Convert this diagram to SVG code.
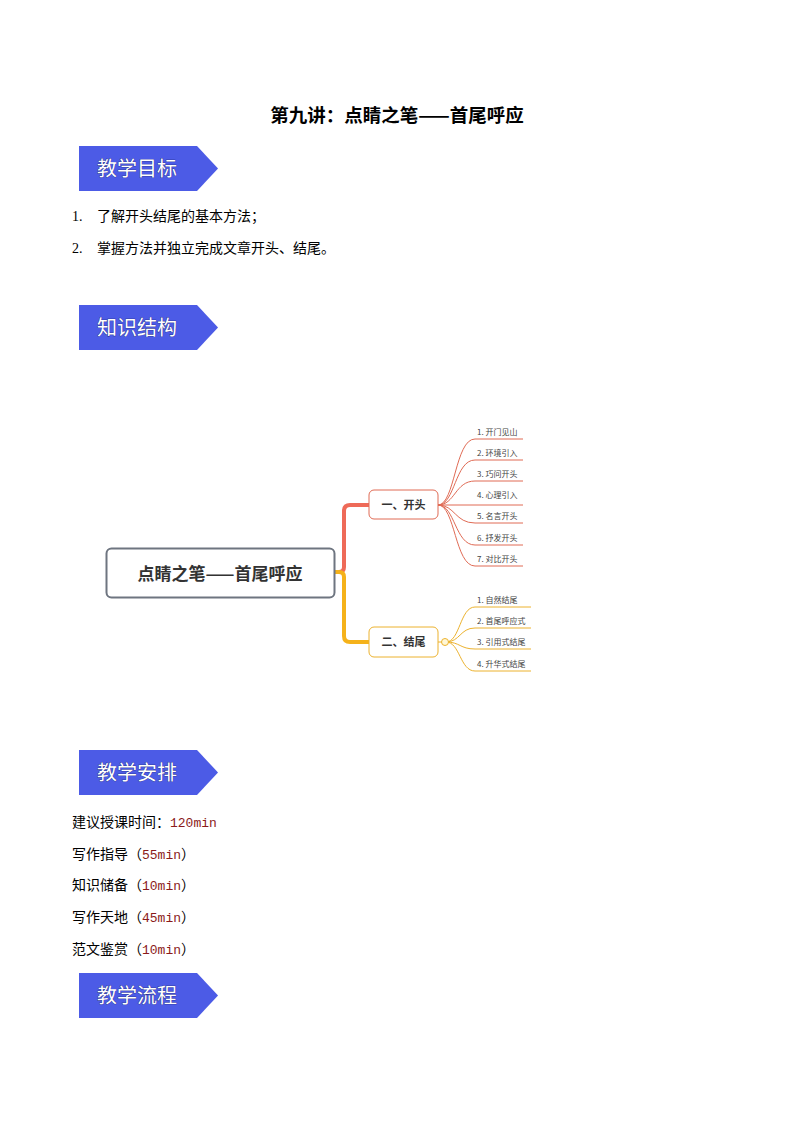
<svg xmlns="http://www.w3.org/2000/svg" width="794" height="1123" viewBox="0 0 794 1123">
<defs>
<style>
.t{font-family:"Liberation Serif","Noto Sans CJK SC",serif;font-size:14px;fill:#000}
.ban{fill:#4c5be6}
.bt{font-family:"Noto Sans CJK SC",sans-serif;font-size:20px;fill:#fff;stroke:#1a2270;stroke-width:0.6;paint-order:stroke}
.m{font-family:"Liberation Mono","Noto Sans CJK SC",monospace;font-size:13px;fill:#8b1a1a}
.lf{font-family:"Noto Sans CJK SC",sans-serif;font-size:8px;fill:#444}
.r{stroke:#e06b55;fill:none;stroke-width:1}
.y{stroke:#ecb22e;fill:none;stroke-width:1}
</style>
<path id="bn" d="M0 0H118L139 22.5L118 45H0Z"/>
</defs>
<rect width="794" height="1123" fill="#fff"/>
<text x="397" y="122" text-anchor="middle" style="font-family:'Noto Sans CJK SC',serif;font-size:18.5px;font-weight:bold">第九讲：点睛之笔——首尾呼应</text>
<g id="b1"><use href="#bn" x="79" y="146" class="ban"/><text x="97" y="176" class="bt">教学目标</text></g>
<text x="72" y="221" class="t">1.</text><text x="97" y="221" class="t">了解开头结尾的基本方法；</text>
<text x="72" y="253" class="t">2.</text><text x="97" y="253" class="t">掌握方法并独立完成文章开头、结尾。</text>
<g id="b2"><use href="#bn" x="79" y="305" class="ban"/><text x="97" y="335" class="bt">知识结构</text></g>
<g id="connectors">
<path d="M334 572H339Q344 572 344 567V511Q344 505 350 505H369" stroke="#ee6a58" stroke-width="4" fill="none"/>
<path d="M334 572H339Q344 572 344 577V636Q344 642 350 642H369" stroke="#f5b21a" stroke-width="4" fill="none"/>
<g class="r">
<path d="M438 505C455 505 455 439 475 439H523"/>
<path d="M438 505C455 505 455 460 475 460H523"/>
<path d="M438 505C455 505 455 481 475 481H523"/>
<path d="M438 505H523"/>
<path d="M438 505C455 505 455 523 475 523H523"/>
<path d="M438 505C455 505 455 545 475 545H523"/>
<path d="M438 505C455 505 455 566 475 566H523"/>
</g>
<g class="y">
<path d="M446 642C460 642 460 607 475 607H531"/>
<path d="M446 642C460 642 460 628 475 628H531"/>
<path d="M446 642C460 642 460 649 475 649H531"/>
<path d="M446 642C460 642 460 671 475 671H531"/>
<path d="M438 642H442"/>
</g>
<circle cx="445" cy="642" r="3.5" fill="#fff7d6" stroke="#ecb22e"/>
</g>
<g id="root"><rect x="106.5" y="548.5" width="228" height="49" rx="5" fill="#fff" stroke="#6e7580" stroke-width="2"/><text x="220" y="580" text-anchor="middle" style="font-family:'Noto Sans CJK SC',sans-serif;font-size:17px;font-weight:bold;fill:#333">点睛之笔——首尾呼应</text></g>
<g id="n1"><rect x="369" y="490" width="69" height="29" rx="5" fill="#fff" stroke="#e06b55"/><text x="403.5" y="509" text-anchor="middle" style="font-family:'Noto Sans CJK SC',sans-serif;font-size:11px;font-weight:bold;fill:#333">一、开头</text></g>
<g id="n2"><rect x="369" y="627" width="69" height="30" rx="5" fill="#fff" stroke="#ecb22e"/><text x="403.5" y="646" text-anchor="middle" style="font-family:'Noto Sans CJK SC',sans-serif;font-size:11px;font-weight:bold;fill:#333">二、结尾</text></g>
<g id="leaves">
<text x="477" y="435" class="lf">1. 开门见山</text>
<text x="477" y="456" class="lf">2. 环境引入</text>
<text x="477" y="477" class="lf">3. 巧问开头</text>
<text x="477" y="498" class="lf">4. 心理引入</text>
<text x="477" y="519" class="lf">5. 名言开头</text>
<text x="477" y="541" class="lf">6. 抒发开头</text>
<text x="477" y="562" class="lf">7. 对比开头</text>
<text x="477" y="603" class="lf">1. 自然结尾</text>
<text x="477" y="624" class="lf">2. 首尾呼应式</text>
<text x="477" y="645" class="lf">3. 引用式结尾</text>
<text x="477" y="667" class="lf">4. 升华式结尾</text>
</g>
<g id="b3"><use href="#bn" x="79" y="750" class="ban"/><text x="97" y="780" class="bt">教学安排</text></g>
<text x="72" y="827" class="t">建议授课时间：<tspan class="m">120min</tspan></text>
<text x="72" y="859" class="t">写作指导（<tspan class="m">55min</tspan>）</text>
<text x="72" y="890" class="t">知识储备（<tspan class="m">10min</tspan>）</text>
<text x="72" y="922" class="t">写作天地（<tspan class="m">45min</tspan>）</text>
<text x="72" y="954" class="t">范文鉴赏（<tspan class="m">10min</tspan>）</text>
<g id="b4"><use href="#bn" x="79" y="973" class="ban"/><text x="97" y="1003" class="bt">教学流程</text></g>
</svg>
